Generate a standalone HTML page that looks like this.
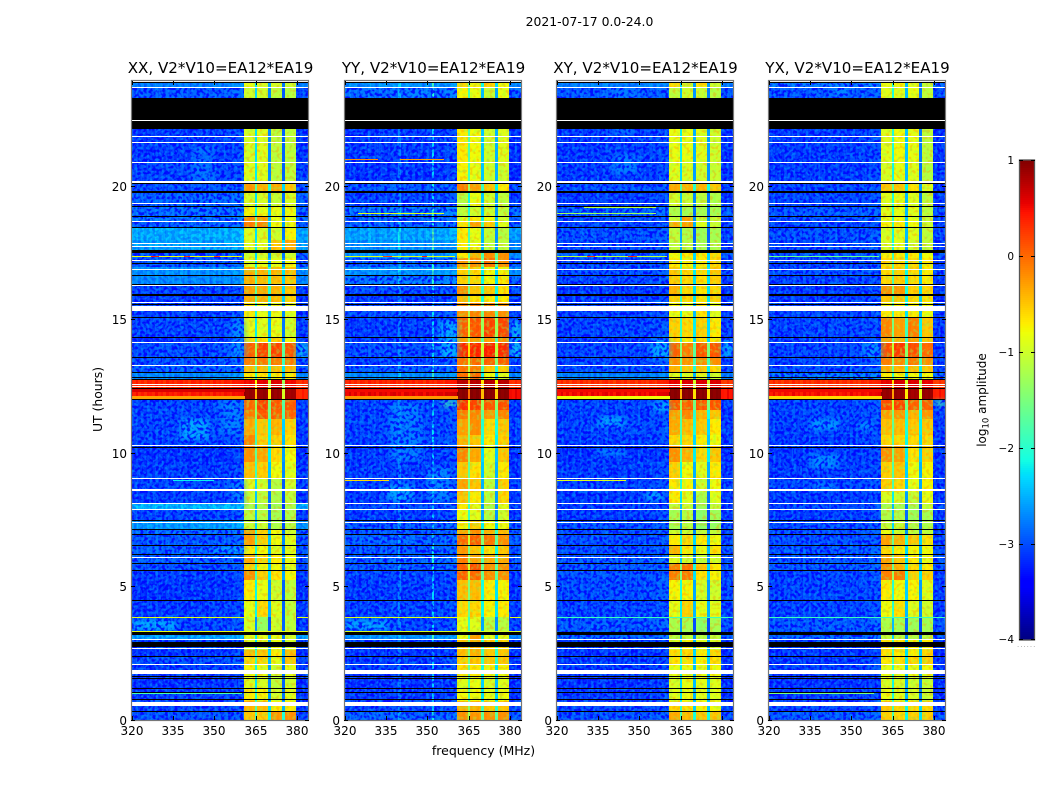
<!DOCTYPE html>
<html lang="en">
<head>
<meta charset="utf-8">
<title>2021-07-17 0.0-24.0 amplitude waterfall</title>
<style>
html,body{margin:0;padding:0;background:#fff;width:1050px;height:800px;overflow:hidden}
svg{display:block}
text{font-family:"DejaVu Sans","Liberation Sans",sans-serif;fill:#000}
</style>
</head>
<body>
<svg id="chart" xmlns="http://www.w3.org/2000/svg" width="1050" height="800" viewBox="0 0 1050 800">
  <defs>
    <filter id="speckle-light" x="0" y="0" width="100%" height="100%" color-interpolation-filters="sRGB">
      <feTurbulence type="fractalNoise" baseFrequency="0.34" numOctaves="1" seed="4"/>
      <feColorMatrix type="matrix" values="0 0 0 0 0  0 0 0 0 0.55  0 0 0 0 1  8 0 0 0 -4.2"/>
    </filter>
    <filter id="speckle-dark" x="0" y="0" width="100%" height="100%" color-interpolation-filters="sRGB">
      <feTurbulence type="fractalNoise" baseFrequency="0.32" numOctaves="1" seed="11"/>
      <feColorMatrix type="matrix" values="0 0 0 0 0  0 0 0 0 0  0 0 0 0 1  8 0 0 0 -3.8"/>
    </filter>
    <filter id="speckle-warm" x="0" y="0" width="100%" height="100%" color-interpolation-filters="sRGB">
      <feTurbulence type="fractalNoise" baseFrequency="0.3" numOctaves="1" seed="7"/>
      <feColorMatrix type="matrix" values="0 0 0 0 1  0 0 0 0 0.55  0 0 0 0 0  8 0 0 0 -4.2"/>
    </filter>
    <filter id="speckle-cool" x="0" y="0" width="100%" height="100%" color-interpolation-filters="sRGB">
      <feTurbulence type="fractalNoise" baseFrequency="0.3" numOctaves="1" seed="19"/>
      <feColorMatrix type="matrix" values="0 0 0 0 0.55  0 0 0 0 1  0 0 0 0 0.3  8 0 0 0 -4.2"/>
    </filter>
    <filter id="blob-blur" x="-40%" y="-80%" width="180%" height="260%">
      <feGaussianBlur stdDeviation="3 2"/>
    </filter>
  </defs>
  <text x="589.5" y="26" font-size="12.4" text-anchor="middle">2021-07-17 0.0-24.0</text>
  <text x="483.5" y="755" font-size="12.5" text-anchor="middle">frequency (MHz)</text>
  <text x="102" y="399.5" font-size="12.4" text-anchor="middle" transform="rotate(-90 102 399.5)">UT (hours)</text>
  <text x="986" y="400" font-size="12" text-anchor="middle" transform="rotate(-90 986 400)">log<tspan font-size="8.5" dy="2.5">10</tspan><tspan dy="-2.5"> amplitude</tspan></text>
  <g id="panels"></g>
  <g id="colorbar"></g>
</svg>
<script>
/* ---------- shared axes data ---------- */
const xTickValues = [320, 335, 350, 365, 380];
const yTickValues = [0, 5, 10, 15, 20];
const colorbarTickValues = [-4, -3, -2, -1, 0, 1];
const channelCentres = [320,321,322,323,324,325,326,327,328,329,330,331,332,333,334,335,336,337,338,339,340,341,342,343,344,345,346,347,348,349,350,351,352,353,354,355,356,357,358,359,360,361,362,363,364,365,366,367,368,369,370,371,372,373,374,375,376,377,378,379,380,381,382,383,384];
const subbandChannels = [[361,362,363,364],[366,367,368,369],[371,372,373,374],[376,377,378,379]];
const gapChannels = [365, 370, 375];

/* UT hour edges of the time bands, top of the plot to the bottom */
const bandEdgeHours = [24,23.715,23.339,22.176,20.938,20.187,19.85,19.287,18.912,18.687,18.461,18.011,17.636,17.336,16.998,16.698,16.322,15.985,15.685,15.084,14.371,14.184,13.583,13.283,13.021,12.758,12.42,12.045,11.632,11.294,10.694,10.281,9.681,9.081,8.555,8.105,7.88,7.467,7.129,6.942,6.529,6.229,5.891,5.591,5.253,4.503,3.865,3.302,3.002,2.627,2.364,2.064,1.613,1.163,0.713,0.338,0];

/* small per-channel level trim */
const channelTrim = [0.06,-0.04,0.08,-0.07,0.03,-0.09,0.05,0.02,-0.06,0.09,-0.03,0.04,-0.08,0.07,-0.02,0.05,-0.06,0.03,0.08,-0.05,0.02,-0.09,0.06,0.04,-0.03,0.07,-0.06,0.02,0.05,-0.07,0.08,-0.02,0.04,-0.05,0.07,0.03,-0.04,0.09,0.06,0.08,0.1,0.02,-0.02,0.02,-0.02,0,0.02,-0.02,0.03,-0.03,0,0.03,-0.03,0.02,-0.02,0,0.02,-0.02,0.02,0,-0.05,-0.08,0.04,-0.06,0.05];

/* flagged time rows, [start hour, end hour] */
const whiteRows = [[23.977,23.94],[23.752,23.715],[22.514,22.476],[21.913,21.876],[21.688,21.651],[20.938,20.9],[20.225,20.15],[19.4,19.362],[18.724,18.687],[17.899,17.861],[17.786,17.749],[17.261,17.223],[16.923,16.885],[16.322,16.285],[15.685,15.647],[15.535,15.347],[14.184,14.146],[13.321,13.283],[12.608,12.57],[12.533,12.495],[10.319,10.281],[9.081,9.043],[8.668,8.593],[8.143,8.105],[7.917,7.88],[7.43,7.392],[6.116,6.079],[3.039,3.002],[2.702,2.664],[2.101,2.064],[1.876,1.726],[0.675,0.525]];
const blackRows = [[23.94,23.9],[23.339,22.514],[22.476,22.176],[20.15,20.112],[19.85,19.775],[19.287,19.25],[18.912,18.874],[18.499,18.461],[17.636,17.523],[17.148,17.111],[16.698,16.66],[16.36,16.322],[15.985,15.91],[15.61,15.572],[15.122,15.084],[14.371,14.334],[13.621,13.583],[13.058,13.021],[12.87,12.833],[12.795,12.758],[12.458,12.42],[12.045,12.007],[10.244,10.206],[7.505,7.467],[7.167,7.129],[6.979,6.942],[6.567,6.529],[6.229,6.191],[5.891,5.854],[5.628,5.591],[4.503,4.465],[3.302,3.19],[2.927,2.739],[2.401,2.364],[1.651,1.613],[1.576,1.538],[1.201,1.163],[1.051,1.013],[0.788,0.75],[0.338,0.3]];

/* ---------- XX ---------- */
const xxBackground = [-2.7,-2.9,-3,-3.05,-3,-2.95,-2.85,-2.8,-2.75,-2.85,-2.45,-2.5,-2.9,-2.9,-2.6,-2.65,-3,-3.05,-3,-3,-3.1,-2.95,-2.95,-2.85,-2.65,0.35,0.4,-3,-3,-3,-3,-3.1,-3.05,-3,-3.05,-2.4,-3,-2.55,-2.8,-2.9,-2.85,-2.85,-2.95,-3.05,-3.1,-3.05,-3,-2.5,-3,-3.1,-2.95,-3.05,-3.1,-3.05,-3,-2.95];
const xxSubbands = [[-.85,-.95,-.95,-1],[-1,-1,-1.1,-1.15],[-1,-1,-1.1,-1.15],[-.95,-.9,-1.1,-1.1],[-.9,-.9,-1.1,-1.1],[-.25,-.4,-.35,-.5],[-.95,-.95,-1.05,-.95],[-.75,-.85,-.85,-.8],[-.2,-.3,-.85,-.8],[-.1,-.15,-.8,-.8],[-.9,-.95,-1,-.75],[-.9,-.9,-.5,-.35],[-1,-1,-1,-1],[-.9,-.85,-.85,-.8],[-.35,-.4,-.4,-.45],[-.4,-.45,-.45,-.5],[-.3,-.35,-.4,-.5],[-.35,-.4,-.45,-.55],[-.7,-.85,-.85,-.9],[-.85,-.9,-.85,-1],[-.6,-.65,-.55,-.8],[.05,.2,.2,.1],[-.1,-.1,-.1,-.1],[-.45,-.45,-.45,-.45],[-.7,-.7,-.7,-.7],[.5,.55,.6,.5],[.9,.9,.9,.85],[0,.2,.1,.1],[-.1,.1,.05,.05],[-.35,-.5,-.4,-.55],[-.15,-.55,-.55,-.65],[-.2,-.35,-.6,-.8],[-.45,-.55,-.8,-.9],[-.9,-1,-1.15,-1],[-1,-1.1,-1.2,-1.1],[-1.2,-1.2,-1.3,-1.2],[-1.1,-1.15,-1.25,-1.2],[-1.05,-1.05,-1.2,-1.15],[-.3,-.6,-.8,-1],[-.3,-.55,-.8,-.9],[-.7,-.8,-.9,-.9],[-.35,-.6,-.7,-.8],[-.55,-.75,-.8,-.9],[-.2,-.55,-.65,-.75],[-.7,-.85,-1,-1.1],[-.85,-.6,-.9,-1.1],[-.95,-1.35,-1,-1.1],[-.9,-.9,-.85,-1],[-.95,-.95,-.8,-.95],[-.45,-.5,-.7,-.45],[-.6,-.6,-.85,-.5],[-.75,-.85,-1,-.85],[-.9,-.95,-1.1,-1],[-.7,-.75,-1,-.9],[-.4,-.45,-.7,-.7],[-.5,-.55,-.25,-.2]];
const xxGapDrops = [1.3, 1.6, 1.8];
const xxChannelLines = [];
/* [low MHz, high MHz, start hour, end hour, level] */
const xxBlobs = [[338,348,10.5,11.3,-2.3],[352,360,10.7,12,-2.6],[342,350,20.2,21.5,-2.7],[356,361,13.6,15,-2.55],[380,384,13.6,14.2,-2.2],[356,361,8,9,-2.6],[320,336,3.35,3.8,-2.3],[350,361,6.25,6.5,-2.4]];
const xxLines = [[17.411,17.374,320,360,-0.8],[17.411,17.374,327,330,0.4],[17.411,17.374,339,341,0.3],[17.411,17.374,350,352,0.2],[12.157,12.045,320,361,-0.3],[12.42,12.3,320,361,0.6],[3.865,3.827,320,361,-0.9],[3.865,3.827,380,384,-0.9],[3.34,3.302,320,384,-0.85],[1.013,0.975,320,360,-1.8],[9.005,8.968,335,350,-2.2]];

/* ---------- YY ---------- */
const yyBackground = [-2.6,-2.8,-3,-3.05,-3.1,-2.9,-3,-2.75,-2.85,-2.85,-2.5,-2.6,-2.6,-2.85,-2.6,-2.75,-2.95,-3.05,-2.95,-3.05,-3.05,-2.95,-3,-2.9,-2.65,0.35,0.55,-3,-3,-3,-3,-3.05,-3.05,-3,-3.05,-3,-3.05,-2.9,-2.9,-2.85,-2.9,-2.85,-2.9,-3,-3.05,-3,-3,-2.6,-3.05,-3.1,-3.05,-3.05,-3.1,-3.05,-3,-2.85];
const yySubbands = [[-.6,-.75,-.55,-.8],[-.75,-.85,-1.05,-.85],[-.75,-.85,-1.05,-.85],[-.7,-.8,-1,-.9],[-.75,-.85,-1,-1],[-.1,-.3,-.5,-.7],[-1.15,-.85,-1,-1.1],[-1.1,-1,-1,-1.1],[-.9,-.7,-.8,-1],[-.65,-.3,-.5,-.9],[-.7,-.85,-1.05,-1.15],[-.7,-.85,-1.1,-1.1],[-.7,-.4,-.2,-.2],[-.25,-.2,-.05,-.2],[-.55,-.6,-.8,-.75],[-.55,-.6,-.75,-.7],[-.2,-.5,-.5,-.65],[-.45,-.65,-.7,-.7],[-.2,-.15,-.15,-.2],[.05,.1,.2,.2],[-.3,-.3,-.3,-.2],[.35,.35,.4,.35],[-.05,0,.05,.05],[-.05,-.1,-.5,-.55],[0,0,-.8,-.9],[.75,.75,.75,.75],[.95,.95,.95,.95],[.3,.2,.1,.15],[-.1,-.15,-.25,-.15],[-.3,-.2,-.6,-.5],[-.4,-.5,-.7,-.55],[-.15,-.35,-.9,-.5],[-.5,-.65,-1,-.7],[-.3,-.5,-1.1,-.55],[-.5,-.7,-1.1,-.6],[-.7,-.9,-1.2,-.9],[-.8,-.9,-1.15,-1],[-.75,-.55,-.8,-.85],[-.35,-.2,-.4,-.45],[0,.05,-.05,-.2],[-.25,-.5,-.65,-.5],[-.1,-.3,-.35,-.35],[.05,.15,-.2,-.2],[.05,0,-.2,-.2],[-.45,-.45,-.7,-.75],[-.6,-.6,-.75,-.7],[-.85,-.9,-1.15,-1.15],[-.85,-.3,-.9,-.9],[-.5,-.4,-.55,-.6],[-.45,-.4,-.5,-.5],[-.55,-.5,-.5,-.5],[-.65,-.7,-.75,-.75],[-.9,-.85,-.95,-.9],[-.8,-.8,-.85,-.8],[-.4,-.4,-.5,-.5],[-.2,-.25,-.2,-.2]];
const yyGapDrops = [1.0, 1.4, 1.5];
const yyChannelLines = [[352, 0.7], [340, 0.3]];
const yyBlobs = [[336,348,9.7,11.9,-2.6],[350,358,8.2,9.5,-2.55],[335,345,8.2,8.8,-2.35],[354,361,13.6,15,-2.3],[380,384,13.6,15,-2.2],[343,350,23.4,23.7,-2.6],[355,361,11.75,12,-1.8],[320,336,3.35,3.8,-2.35]];
const yyLines = [[17.411,17.374,320,360,-0.9],[17.411,17.374,334,337,0.2],[17.411,17.374,348,350,0.4],[21.05,21.013,320,332,-0.2],[21.05,21.013,340,356,-0.3],[19.024,18.987,325,356,-0.9],[12.157,12.045,320,361,-0.25],[12.42,12.3,320,361,0.5],[9.005,8.968,320,336,-0.6],[3.865,3.827,320,361,-0.9],[3.865,3.827,380,384,-0.9],[3.34,3.302,320,384,-0.95]];

/* ---------- XY ---------- */
const xyBackground = [-2.7,-2.9,-3,-3.05,-3.05,-2.95,-3.05,-2.85,-2.95,-3,-2.95,-3,-2.85,-3,-2.95,-3,-3.05,-3.05,-3,-3,-3.1,-3,-3,-2.95,-2.7,0.3,0.5,-3,-3.05,-3,-3.05,-3.1,-3.05,-3,-3.05,-3.05,-3.05,-2.95,-2.95,-2.95,-2.95,-2.9,-2.9,-2.95,-2.95,-3,-2.9,-2.85,-3.05,-3.1,-3.05,-3.05,-3.1,-3.05,-3,-2.95];
const xySubbands = [[-.6,-1,-.7,-1],[-1.1,-1,-1.05,-1.15],[-1.1,-1,-1.05,-1.15],[-.85,-.85,-.9,-1],[-.9,-.95,-1,-1.05],[-.35,-.4,-.4,-.5],[-1,-1.05,-1.1,-1.2],[-1.2,-1.25,-1.25,-1.25],[-1.05,-.3,-1.05,-1.05],[-.35,-.3,-.9,-1.05],[-1.1,-1.2,-1.3,-1.25],[-1.1,-1.15,-1.25,-1.2],[-.8,-.7,-.7,-.6],[-.7,-.75,-.7,-.6],[-.5,-.6,-.6,-.5],[-.55,-.6,-.65,-.55],[-.4,-.6,-.65,-.6],[-.55,-.6,-.65,-.55],[-.8,-.85,-.65,-.9],[-.55,-.6,-.55,-.7],[-.6,-.7,-.6,-.7],[.05,-.1,.1,.1],[-.2,-.25,-.2,-.2],[-.4,-.5,-.5,-.6],[-.9,-.9,-.9,-1],[.55,.6,.6,.6],[.95,.95,.95,.95],[.1,.05,.1,.1],[-.3,-.15,-.4,-.5],[-.35,-.45,-.5,-.7],[-.6,-.6,-.7,-.8],[-.2,-.4,-.6,-.5],[-.55,-.8,-.9,-.7],[-.7,-.75,-1,-.8],[-.7,-.9,-1.2,-.9],[-1.1,-1.05,-1.3,-1.1],[-1.25,-1.15,-1.4,-1.3],[-1.25,-1.15,-1.4,-1.35],[-1,-1.05,-1.1,-1.1],[-.7,-.6,-.7,-.8],[-.4,-.7,-.85,-.65],[-.9,-1,-1.05,-.95],[-.1,-.05,-.5,-.7],[-.1,-.1,-.65,-.75],[-.75,-.75,-.95,-1],[-.85,-.55,-.85,-.9],[-1.2,-1.25,-1.4,-1.25],[-1.15,-1.1,-1.15,-1.1],[-.9,-.75,-.9,-.95],[-.6,-.6,-.7,-.6],[-.65,-.65,-.75,-.65],[-.85,-.85,-.85,-.8],[-.95,-.85,-.85,-.9],[-.9,-.85,-.9,-.9],[-.6,-.65,-.75,-.8],[-.35,-.45,-.5,-.5]];
const xyGapDrops = [1.35, 1.6, 1.6];
const xyChannelLines = [];
const xyBlobs = [[340,350,20.5,21.2,-2.6],[340,349,22,23.7,-2.7],[335,345,11,11.4,-2.4],[334,345,9.9,10.2,-2.6],[352,358,8.2,8.6,-2.35],[354,361,13.6,14.3,-2.3],[380,384,13.6,14.3,-2.3],[355,361,11.6,11.95,-2.3]];
const xyLines = [[17.411,17.374,320,360,-1.1],[17.411,17.374,331,334,0.2],[17.411,17.374,346,349,0.3],[19.024,18.987,320,356,-1.3],[19.25,19.212,330,356,-1.1],[12.157,12.045,320,361,-0.8],[12.42,12.3,320,361,0.5],[9.005,8.968,320,345,-0.9],[3.865,3.827,320,384,-1.9]];

/* ---------- YX ---------- */
const yxBackground = [-2.75,-2.9,-3,-3.05,-3.05,-3,-3,-2.9,-2.95,-3,-2.95,-3,-2.9,-3,-2.95,-3,-3.05,-3.05,-3,-3,-3.05,-3,-3,-2.95,-2.75,0.3,0.45,-3,-3,-3.05,-3.05,-3.05,-3.05,-3,-3.05,-3,-3.05,-2.95,-2.95,-2.95,-2.9,-2.9,-2.9,-3,-3,-3,-2.9,-2.85,-3.05,-3.1,-3.05,-3.05,-3.1,-3.05,-3,-2.9];
const yxSubbands = [[-.85,-.8,-.9,-1.1],[-.9,-.9,-.85,-1.1],[-.9,-.9,-.85,-1.1],[-.9,-.8,-.85,-1.1],[-.95,-.85,-.9,-1.15],[-.5,-.5,-.65,-.9],[-.9,-.85,-.9,-1.1],[-.9,-.85,-.9,-1.1],[-.85,-.8,-.85,-1.05],[-.75,-.7,-.8,-1],[-.95,-.9,-.9,-1.1],[-.95,-.9,-1,-1.1],[-.7,-.7,-.7,-.8],[-.6,-.6,-.6,-.7],[-.6,-.55,-.6,-.7],[-.6,-.55,-.6,-.7],[-.2,-.25,-.55,-.6],[-.5,-.5,-.6,-.65],[-.7,-.7,-.7,-.8],[-.15,-.3,-.1,-.5],[-.3,-.4,-.3,-.5],[.15,.25,.15,0],[-.1,-.2,-.1,-.2],[-.35,-.45,-.45,-.5],[-.7,-.8,-.8,-.8],[.55,.6,.6,.55],[.9,.9,.85,.9],[.15,.2,.05,.05],[-.3,-.25,-.4,-.25],[-.45,-.45,-.5,-.5],[-.6,-.6,-.6,-.6],[-.2,-.3,-.65,-.55],[-.55,-.5,-.8,-.75],[-.55,-.6,-.85,-.75],[-.95,-1,-1.05,-.85],[-1.25,-1.25,-1.25,-1.05],[-1.2,-1.2,-1.3,-1.25],[-1.1,-1.05,-1.2,-1.2],[-.85,-1,-1.1,-1.1],[-.3,-.4,-.5,-.65],[-.6,-.7,-.75,-.8],[-.3,-.5,-.7,-.85],[-.2,-.4,-.6,-.7],[-.1,-.1,-.55,-.55],[-.7,-.8,-.75,-.9],[-.8,-.65,-.9,-1],[-1.2,-1.25,-1.3,-1.25],[-1.1,-1.15,-1.15,-1.15],[-.65,-.7,-.75,-.7],[-.65,-.7,-.7,-.6],[-.7,-.65,-.6,-.55],[-.85,-.85,-.85,-.8],[-.95,-.95,-1,-1.05],[-.85,-.9,-.95,-1.05],[-.5,-.6,-.6,-.6],[-.55,-.6,-.55,-.55]];
const yxGapDrops = [1.2, 1.55, 1.7];
const yxChannelLines = [];
const yxBlobs = [[335,346,10.9,11.3,-2.4],[352,358,10.9,11.2,-2.5],[335,345,9.4,10,-2.5],[336,344,8.6,8.9,-2.6],[354,361,13.6,14.2,-2.5],[380,384,11.75,12,-1.8],[343,350,23.4,23.7,-2.6]];
const yxLines = [[17.411,17.374,320,360,-1.6],[12.157,12.045,320,361,-0.6],[12.42,12.3,320,361,0.5],[3.865,3.827,320,384,-1.9],[1.013,0.975,320,358,-1.5]];

const panelTitles = ['XX, V2*V10=EA12*EA19','YY, V2*V10=EA12*EA19','XY, V2*V10=EA12*EA19','YX, V2*V10=EA12*EA19'];
const panelBackgrounds = [xxBackground, yyBackground, xyBackground, yxBackground];
const panelSubbands = [xxSubbands, yySubbands, xySubbands, yxSubbands];
const panelGapDrops = [xxGapDrops, yyGapDrops, xyGapDrops, yxGapDrops];
const panelChannelLines = [xxChannelLines, yyChannelLines, xyChannelLines, yxChannelLines];
const panelBlobs = [xxBlobs, yyBlobs, xyBlobs, yxBlobs];
const panelLines = [xxLines, yyLines, xyLines, yxLines];

/* ---------- layout and scales ---------- */
const SVGNS = 'http://www.w3.org/2000/svg';
const panelLeft = [131, 344, 556, 768];
const plotWidth = 177, plotTop = 81, plotBottom = 720, freqMin = 320, freqMax = 384;
const quietLimit = -2.7;

function yOf(hour) { return Math.round(720 - hour * 26.65); }
function xOf(panelIndex, freq) {
  const f = Math.min(freqMax, Math.max(freqMin, freq));
  return Math.round(panelLeft[panelIndex] + 0.5 + (f - freqMin) * (plotWidth / (freqMax - freqMin)));
}
function lerpStops(stops, t) {
  for (let i = 1; i < stops.length; i++) {
    if (t <= stops[i][0]) {
      const a = stops[i - 1], b = stops[i];
      return a[1] + (b[1] - a[1]) * (t - a[0]) / (b[0] - a[0]);
    }
  }
  return stops[stops.length - 1][1];
}
const jetRed = [[0,0],[0.35,0],[0.66,1],[0.89,1],[1,0.5]];
const jetGreen = [[0,0],[0.125,0],[0.375,1],[0.64,1],[0.91,0],[1,0]];
const jetBlue = [[0,0.5],[0.11,1],[0.34,1],[0.65,0],[1,0]];
function colorOf(level) {
  const t = Math.min(1, Math.max(0, (level + 4) / 5));
  return 'rgb(' + Math.round(255 * lerpStops(jetRed, t)) + ',' + Math.round(255 * lerpStops(jetGreen, t)) + ',' + Math.round(255 * lerpStops(jetBlue, t)) + ')';
}
function rectEl(parent, x, y, w, h, fill) {
  const el = document.createElementNS(SVGNS, 'rect');
  el.setAttribute('x', x);
  el.setAttribute('y', y);
  el.setAttribute('width', w);
  el.setAttribute('height', h);
  el.setAttribute('fill', fill);
  parent.appendChild(el);
  return el;
}
function groupEl(parent) {
  const el = document.createElementNS(SVGNS, 'g');
  parent.appendChild(el);
  return el;
}
function textEl(parent, x, y, size, anchor, content) {
  const el = document.createElementNS(SVGNS, 'text');
  el.setAttribute('x', x);
  el.setAttribute('y', y);
  el.setAttribute('font-size', size);
  el.setAttribute('text-anchor', anchor);
  el.textContent = content;
  parent.appendChild(el);
  return el;
}
function lineEl(parent, x1, y1, x2, y2, stroke, width) {
  const el = document.createElementNS(SVGNS, 'line');
  el.setAttribute('x1', x1);
  el.setAttribute('y1', y1);
  el.setAttribute('x2', x2);
  el.setAttribute('y2', y2);
  el.setAttribute('stroke', stroke);
  el.setAttribute('stroke-width', width);
  parent.appendChild(el);
  return el;
}
function cellLevel(p, bandIndex, channel) {
  const rows = panelSubbands[p][bandIndex];
  const trim = channelTrim[channelCentres.indexOf(channel)];
  for (let s = 0; s < subbandChannels.length; s++) {
    if (subbandChannels[s].indexOf(channel) >= 0) return rows[s] + trim;
  }
  const g = gapChannels.indexOf(channel);
  if (g >= 0) return Math.min(rows[g], rows[g + 1]) - panelGapDrops[p][g];
  let level = panelBackgrounds[p][bandIndex] + trim;
  panelChannelLines[p].forEach(function (cl) {
    if (cl[0] === channel && level < -1) level += cl[1];
  });
  return level;
}
/* merge neighbouring time bands passing a test into pixel spans for the grain layer */
function bandSpans(p, test) {
  const spans = [];
  let start = null;
  for (let b = 0; b < bandEdgeHours.length - 1; b++) {
    const hit = test(panelBackgrounds[p][b]);
    if (hit && start === null) start = yOf(bandEdgeHours[b]);
    if (!hit && start !== null) { spans.push([start, yOf(bandEdgeHours[b])]); start = null; }
  }
  if (start !== null) spans.push([start, plotBottom]);
  return spans;
}

/* ---------- draw panels ---------- */
const panelsRoot = document.getElementById('panels');
const defs = document.querySelector('#chart defs');
panelLeft.forEach(function (left, p) {
  const panel = groupEl(panelsRoot);
  
  

  const clip = document.createElementNS(SVGNS, 'clipPath');
  clip.setAttribute('id', 'clip-' + p);
  rectEl(clip, left, plotTop, plotWidth + 1, plotBottom - plotTop, '#000');
  defs.appendChild(clip);

  const title = textEl(panel, left + 89.5, 73, 15.1, 'middle', panelTitles[p]);
  
  

  const plot = groupEl(panel);
  plot.setAttribute('clip-path', 'url(#clip-' + p + ')');
  
  

  const cells = groupEl(plot);
  cells.setAttribute('shape-rendering', 'crispEdges');
  
  
  for (let b = 0; b < bandEdgeHours.length - 1; b++) {
    const y0 = yOf(bandEdgeHours[b]), y1 = yOf(bandEdgeHours[b + 1]);
    channelCentres.forEach(function (ch) {
      const x0 = xOf(p, ch - 0.5), x1 = xOf(p, ch + 0.5);
      if (x1 <= x0) return;
      const cell = rectEl(cells, x0, y0, x1 - x0, y1 - y0, colorOf(cellLevel(p, b, ch)));
      
      
    });
  }

  const blobs = groupEl(plot);
  blobs.setAttribute('filter', 'url(#blob-blur)');
  blobs.setAttribute('opacity', '0.65');
  
  
  panelBlobs[p].forEach(function (blob) {
    const x0 = xOf(p, blob[0]), x1 = xOf(p, blob[1]);
    const y0 = yOf(blob[3]), y1 = yOf(blob[2]);
    const el = rectEl(blobs, x0, y0, x1 - x0, y1 - y0, colorOf(blob[4]));
    
    
  });

  /* decorative receiver-noise grain in the band-free channels: strong over quiet rows, soft over brighter rows */
  const grain = groupEl(plot);
  
  
  const quiet = bandSpans(p, function (level) { return level < quietLimit; });
  const brighter = bandSpans(p, function (level) { return level >= quietLimit && level < -1; });
  [[quiet, 'speckle-dark', 0.85], [quiet, 'speckle-light', 0.6], [brighter, 'speckle-dark', 0.28], [brighter, 'speckle-light', 0.5]].forEach(function (layer) {
    [[xOf(p, 320), xOf(p, 360.5)], [xOf(p, 379.6), xOf(p, 384)]].forEach(function (cols) {
      layer[0].forEach(function (rows) {
        const g = rectEl(grain, cols[0], rows[0], cols[1] - cols[0], rows[1] - rows[0], '#000');
        g.setAttribute('filter', 'url(#' + layer[1] + ')');
        g.setAttribute('opacity', layer[2]);
      });
    });
  });
  /* softer grain over the band channels */
  [['speckle-warm', 0.34], ['speckle-cool', 0.34]].forEach(function (layer) {
    [[81, 380], [399, 720]].forEach(function (rows) {
      subbandChannels.forEach(function (sub) {
        const x0 = xOf(p, sub[0] - 0.5), x1 = xOf(p, sub[3] + 0.5);
        const g = rectEl(grain, x0, rows[0], x1 - x0, rows[1] - rows[0], '#000');
        g.setAttribute('filter', 'url(#' + layer[0] + ')');
        g.setAttribute('opacity', layer[1]);
      });
    });
  });

  const rows = groupEl(plot);
  rows.setAttribute('shape-rendering', 'crispEdges');
  
  
  panelLines[p].forEach(function (seg) {
    const x0 = xOf(p, seg[2]), x1 = xOf(p, seg[3]);
    const y0 = yOf(seg[0]), y1 = yOf(seg[1]);
    const el = rectEl(rows, x0, y0, x1 - x0, Math.max(1, y1 - y0), colorOf(seg[4]));
    
    
  });
  whiteRows.forEach(function (r) {
    const y0 = yOf(r[0]), y1 = yOf(r[1]);
    const el = rectEl(rows, left, y0, plotWidth + 1, Math.max(1, y1 - y0), '#fff');
    
    
  });
  blackRows.forEach(function (r) {
    const y0 = yOf(r[0]), y1 = yOf(r[1]);
    const el = rectEl(rows, left, y0, plotWidth + 1, Math.max(1, y1 - y0), '#000');
    
    
  });

  const frame = rectEl(panel, left + 0.5, plotTop - 0.5, plotWidth, plotBottom - plotTop + 1, 'none');
  frame.setAttribute('stroke', '#777');
  frame.setAttribute('stroke-width', '1.2');
  
  

  xTickValues.forEach(function (v) {
    const x = xOf(p, v) + 0.5;
    const top = lineEl(panel, x, plotTop, x, plotTop + 4, '#000', 1);
    
    
    const bottom = lineEl(panel, x, plotBottom - 4, x, plotBottom, '#000', 1);
    
    
    const label = textEl(panel, x - 0.5, 735, 12, 'middle', String(v));
    
    
  });
  yTickValues.forEach(function (v) {
    const y = yOf(v) + 0.5 - (v ? 1 : 0);
    const l = lineEl(panel, left, y, left + 4, y, '#000', 1);
    
    
    const r = lineEl(panel, left + plotWidth - 3, y, left + plotWidth + 1, y, '#000', 1);
    
    
    const label = textEl(panel, left - 4, y + 4.5, 12, 'end', String(v));
    
    
  });
});

/* ---------- colorbar ---------- */
const cbRoot = document.getElementById('colorbar');
const cbLeft = 1019, cbWidth = 16, cbTop = 160, cbBottom = 640;
function cbY(level) { return cbBottom - (level + 4) * (cbBottom - cbTop) / 5; }
const cbStrips = groupEl(cbRoot);
cbStrips.setAttribute('shape-rendering', 'crispEdges');


for (let y = cbTop; y < cbBottom; y += 2) {
  const level = 1 - (y + 1 - cbTop) * 5 / (cbBottom - cbTop);
  const strip = rectEl(cbStrips, cbLeft, y, cbWidth, 2, colorOf(level));
  
  
}
const cbFrame = rectEl(cbRoot, cbLeft + 0.5, cbTop, cbWidth - 1, cbBottom - cbTop, 'none');
cbFrame.setAttribute('stroke', '#555');
cbFrame.setAttribute('stroke-width', '1.3');


colorbarTickValues.forEach(function (v) {
  const y = Math.round(cbY(v)) + (v === 1 ? 0.5 : v === -4 ? -0.5 : 0.5);
  const l = lineEl(cbRoot, cbLeft, y, cbLeft + 4, y, '#000', 1);
  
  
  const r = lineEl(cbRoot, cbLeft + cbWidth - 4, y, cbLeft + cbWidth, y, '#000', 1);
  
  
  const label = textEl(cbRoot, cbLeft - 5, y + 3.5, 10.5, 'end', v < 0 ? '\u2212' + Math.abs(v) : String(v));
  
  
});
const cbDots = textEl(cbRoot, cbLeft - 2, 647, 7, 'start', '......');
cbDots.setAttribute('style', 'fill:#999;letter-spacing:1px');


</script>
</body>
</html>
